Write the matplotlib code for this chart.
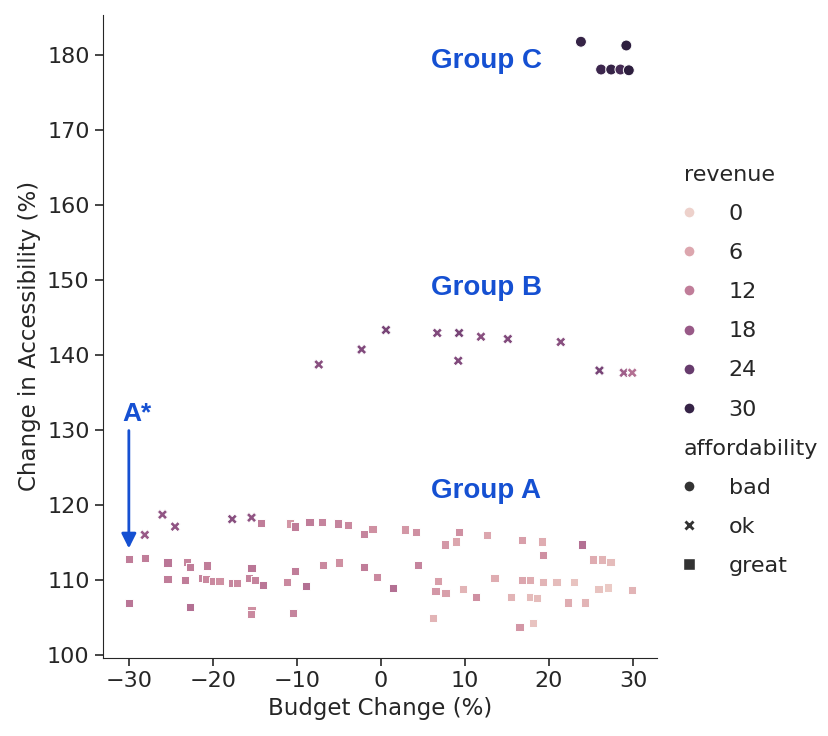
import matplotlib
matplotlib.use("Agg")
import matplotlib.pyplot as plt
from matplotlib.colors import Normalize
from matplotlib.lines import Line2D
import seaborn as sns
from seaborn.utils import adjust_legend_subtitles

# ---- datos ----
# Grupo C (affordability = bad)
bad_x = [23.8, 29.2, 26.2, 27.4, 28.5, 29.5]
bad_y = [181.7, 181.2, 178.0, 178.0, 178.0, 177.9]
bad_rev = [30, 31, 29, 30, 28, 31]

# affordability = ok (grupo B arriba y algunas cruces del grupo A)
ok_x = [-7.4, -2.3, 0.6, 6.7, 9.3, 9.2, 11.9, 15.1, 21.4, 26.0, 28.9, 29.9,
        -28.1, -26.0, -24.5, -17.7, -15.4]
ok_y = [138.7, 140.7, 143.3, 142.9, 142.9, 139.2, 142.4, 142.1, 141.7, 137.9, 137.6, 137.6,
        116.0, 118.7, 117.1, 118.1, 118.3]
ok_rev = [20, 21, 22, 21, 22, 21, 20, 21, 20, 22, 17, 14,
          18, 19, 19, 20, 19]

# affordability = great (grupo A)
great_x = [-30.0, -28.1, -30.0, -25.4, -25.4, -23.1, -22.7, -20.7, -23.3, -21.3,
           -20.8, -20.0, -19.2, -17.7, -17.1, -15.4, -15.7, -15.0, -14.0, -22.7,
           -15.4, -15.5, -14.3, -10.8, -10.2, -8.5, -7.0, -5.1, -3.9, -2.0,
           -1.0, -11.2, -10.2, -8.9, -6.9, -5.0, -2.0, -0.5, -10.5,
           2.9, 4.2, 9.3, 8.9, 7.6, 12.6, 4.4, 1.4, 6.8, 6.5,
           7.7, 9.8, 11.3, 13.5, 6.2, 16.8, 19.2, 19.3, 23.9, 25.2,
           26.3, 27.3, 16.8, 17.7, 19.3, 20.9, 23.0, 15.5, 17.7, 18.6,
           22.3, 24.3, 25.9, 27.0, 29.9, 16.5, 18.1]
great_y = [112.8, 112.9, 106.9, 112.3, 110.1, 112.4, 111.7, 111.9, 110.0, 110.3,
           110.1, 109.9, 109.9, 109.6, 109.6, 111.6, 110.3, 110.0, 109.3, 106.4,
           106.0, 105.5, 117.6, 117.5, 117.1, 117.7, 117.7, 117.5, 117.3, 116.1,
           116.8, 109.7, 111.2, 109.2, 112.0, 112.3, 111.7, 110.4, 105.6,
           116.7, 116.4, 116.4, 115.1, 114.7, 116.0, 112.0, 108.9, 109.9, 108.5,
           108.3, 108.8, 107.7, 110.3, 104.9, 115.3, 115.1, 113.3, 114.7, 112.7,
           112.7, 112.4, 110.0, 110.0, 109.7, 109.7, 109.7, 107.7, 107.7, 107.6,
           107.0, 107.0, 108.8, 109.0, 108.7, 103.7, 104.3]
great_rev = [12, 12, 13, 13, 12, 11, 12, 12, 12, 11,
             10, 10, 9, 11, 10, 13, 11, 11, 13, 14,
             9, 10, 12, 8, 12, 12, 11, 11, 10, 11,
             9, 10, 12, 14, 10, 9, 12, 10, 11,
             8, 9, 9, 6, 8, 6, 11, 14, 7, 8,
             7, 4, 9, 5, 4, 7, 5, 9, 14, 5,
             4, 3, 6, 5, 4, 3, 2, 4, 3, 3,
             5, 4, 2, 1, 4, 8, 2]

legend_rev = [0, 6, 12, 18, 24, 30]
afford_labels = ["bad", "ok", "great"]
afford_markers = ["o", "X", "s"]

azul = "#1550d2"

sns.set_style("ticks")
cmap = sns.cubehelix_palette(as_cmap=True)
norm = Normalize(vmin=0, vmax=max(bad_rev + ok_rev + great_rev))

fig = plt.figure(figsize=(8.29, 7.36), dpi=100)
ax = fig.add_axes([0.124, 0.106, 0.669, 0.874])

ax.scatter(great_x, great_y, c=great_rev, cmap=cmap, norm=norm, marker="s", s=36,
           edgecolors="white", linewidths=0.7)
ax.scatter(ok_x, ok_y, c=ok_rev, cmap=cmap, norm=norm, marker="X", s=55,
           edgecolors="white", linewidths=0.7)
ax.scatter(bad_x, bad_y, c=bad_rev, cmap=cmap, norm=norm, marker="o", s=62,
           edgecolors="white", linewidths=0.7)

ax.set_xlim(-33.1, 32.9)
ax.set_ylim(99.6, 185.3)
ax.set_yticks(range(100, 181, 10))
ax.set_xticks(range(-30, 31, 10))
ax.tick_params(labelsize=16, length=6, width=1.2)
ax.set_xlabel("Budget Change (%)", fontsize=16.5)
ax.set_ylabel("Change in Accessibility (%)", fontsize=16.5)
sns.despine(ax=ax)

# anotaciones
ax.text(6.0, 179.2, "Group C", color=azul, fontsize=20, fontweight="bold",
        family="Liberation Sans", va="center")
ax.text(6.0, 148.9, "Group B", color=azul, fontsize=20, fontweight="bold",
        family="Liberation Sans", va="center")
ax.text(6.0, 121.9, "Group A", color=azul, fontsize=20, fontweight="bold",
        family="Liberation Sans", va="center")
ax.text(-30.8, 132.1, "A*", color=azul, fontsize=19, fontweight="bold",
        family="Liberation Sans", va="center")
ax.annotate("", xy=(-30, 114.2), xytext=(-30, 129.9),
            arrowprops=dict(arrowstyle="-|>", color=azul, lw=2, mutation_scale=22,
                            shrinkA=0, shrinkB=0))

# leyenda
handles = [Line2D([], [], linestyle="", marker="o", label="revenue", visible=False)]
for r in legend_rev:
    handles.append(Line2D([], [], linestyle="", marker="o", markersize=8,
                          color=cmap(norm(r)), markeredgecolor="white", label=str(r)))
handles.append(Line2D([], [], linestyle="", marker="o", label="affordability", visible=False))
for lab, m in zip(afford_labels, afford_markers):
    handles.append(Line2D([], [], linestyle="", marker=m, markersize=8,
                          color="0.2", markeredgecolor="white", label=lab))
leg = ax.legend(handles=handles, loc="center left", bbox_to_anchor=(0.98, 0.447),
                frameon=False, fontsize=16, labelspacing=0.86)
adjust_legend_subtitles(leg)

fig.savefig("out.png", dpi=100)
